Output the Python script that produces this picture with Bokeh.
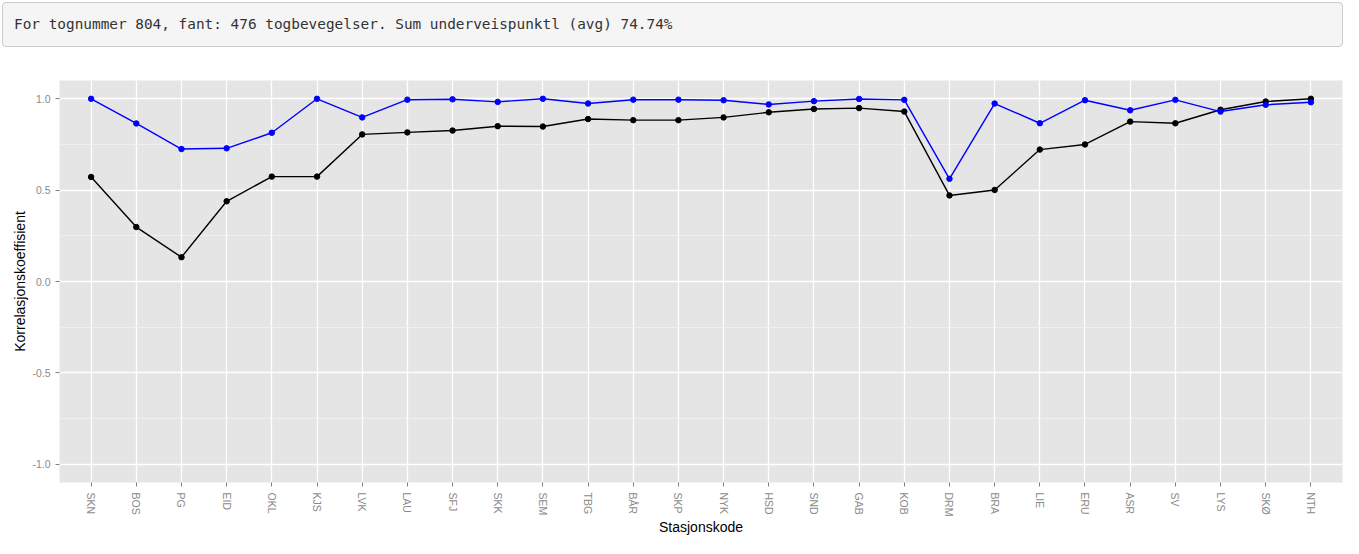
import math
from bokeh.plotting import figure
from bokeh.models import FactorRange, FixedTicker, Range1d, Div, NumeralTickFormatter
from bokeh.layouts import column
from bokeh.embed import file_html
from bokeh.resources import INLINE

stations = ["SKN", "BOS", "PG", "EID", "OKL", "KJS", "LVK", "LAU", "SFJ", "SKK",
            "SEM", "TBG", "BÅR", "SKP", "NYK", "HSD", "SND", "GAB", "KOB", "DRM",
            "BRA", "LIE", "ERU", "ASR", "SV", "LYS", "SKØ", "NTH"]
blue_vals = [1.0, 0.865, 0.725, 0.729, 0.814, 1.0, 0.898, 0.995, 0.997, 0.983,
             1.0, 0.974, 0.995, 0.995, 0.992, 0.969, 0.987, 0.999, 0.994, 0.562,
             0.974, 0.866, 0.992, 0.937, 0.994, 0.930, 0.967, 0.981]
black_vals = [0.572, 0.298, 0.133, 0.439, 0.574, 0.574, 0.805, 0.816, 0.826, 0.850,
              0.848, 0.889, 0.883, 0.883, 0.898, 0.926, 0.944, 0.949, 0.930, 0.471,
              0.501, 0.722, 0.750, 0.875, 0.866, 0.940, 0.985, 1.0]
y_ticks = [-1.0, -0.5, 0.0, 0.5, 1.0]
y_minor = [-0.75, -0.25, 0.25, 0.75]
header_text = "For tognummer 804, fant: 476 togbevegelser. Sum underveispunktl (avg) 74.74%"
x_title = "Stasjonskode"
y_title = "Korrelasjonskoeffisient"

W = 1343
header = Div(
    text=('<div style="box-sizing:border-box;width:1341px;height:45px;background:#f5f5f5;'
          'border:1px solid #cccccc;border-radius:4px;padding:0 0 0 11px;'
          'font-family:\'DejaVu Sans Mono\',monospace;font-size:14.4px;'
          'line-height:43px;color:#333333;white-space:nowrap;">%s</div>') % header_text,
    width=1341, height=45, margin=(2, 0, 0, 2))

p = figure(width=W, height=491, output_backend="svg", toolbar_location=None,
           x_range=FactorRange(factors=stations, range_padding=0.2, range_padding_units="absolute"),
           y_range=Range1d(-1.1, 1.1),
           min_border_left=59, min_border_right=1, min_border_top=33, min_border_bottom=10,
           background_fill_color="#e5e5e5", border_fill_color="white", outline_line_color=None)

p.line(stations, black_vals, line_color="black", line_width=1.4)
p.line(stations, blue_vals, line_color="#0000ff", line_width=1.4)
p.scatter(stations, black_vals, size=5.5, fill_color="black", line_color="black")
p.scatter(stations, blue_vals, size=5.5, fill_color="#0000ff", line_color="#0000ff")

p.yaxis.ticker = FixedTicker(ticks=y_ticks, minor_ticks=y_minor)
p.yaxis.formatter = NumeralTickFormatter(format="0.0")

for ax in (p.xaxis[0], p.yaxis[0]):
    ax.axis_line_color = None
    ax.major_tick_line_color = "#7f7f7f"
    ax.major_tick_out = 4
    ax.major_tick_in = 0
    ax.minor_tick_in = 0
    ax.minor_tick_out = 0
    ax.major_label_text_font = "Liberation Sans"
    ax.major_label_text_font_size = "10.5px"
    ax.major_label_text_color = "#8a8a8a"
    ax.axis_label_text_font = "Liberation Sans"
    ax.axis_label_text_font_size = "14px"
    ax.axis_label_text_font_style = "normal"
    ax.axis_label_text_color = "black"

p.xaxis.axis_label = x_title
p.yaxis.axis_label = y_title
p.xaxis.major_label_orientation = "vertical"
p.xaxis.major_label_standoff = 6
p.xaxis.axis_label_standoff = 0
p.yaxis.major_label_standoff = 5
p.yaxis.axis_label_standoff = 1

p.xgrid.grid_line_color = "white"
p.xgrid.grid_line_width = 1.3
p.ygrid.grid_line_color = "white"
p.ygrid.grid_line_width = 1.3
p.ygrid.minor_grid_line_color = "#f2f2f2"
p.ygrid.minor_grid_line_width = 0.8

layout = column(header, p, spacing=0)
open("out.html", "w").write(file_html(layout, INLINE))
